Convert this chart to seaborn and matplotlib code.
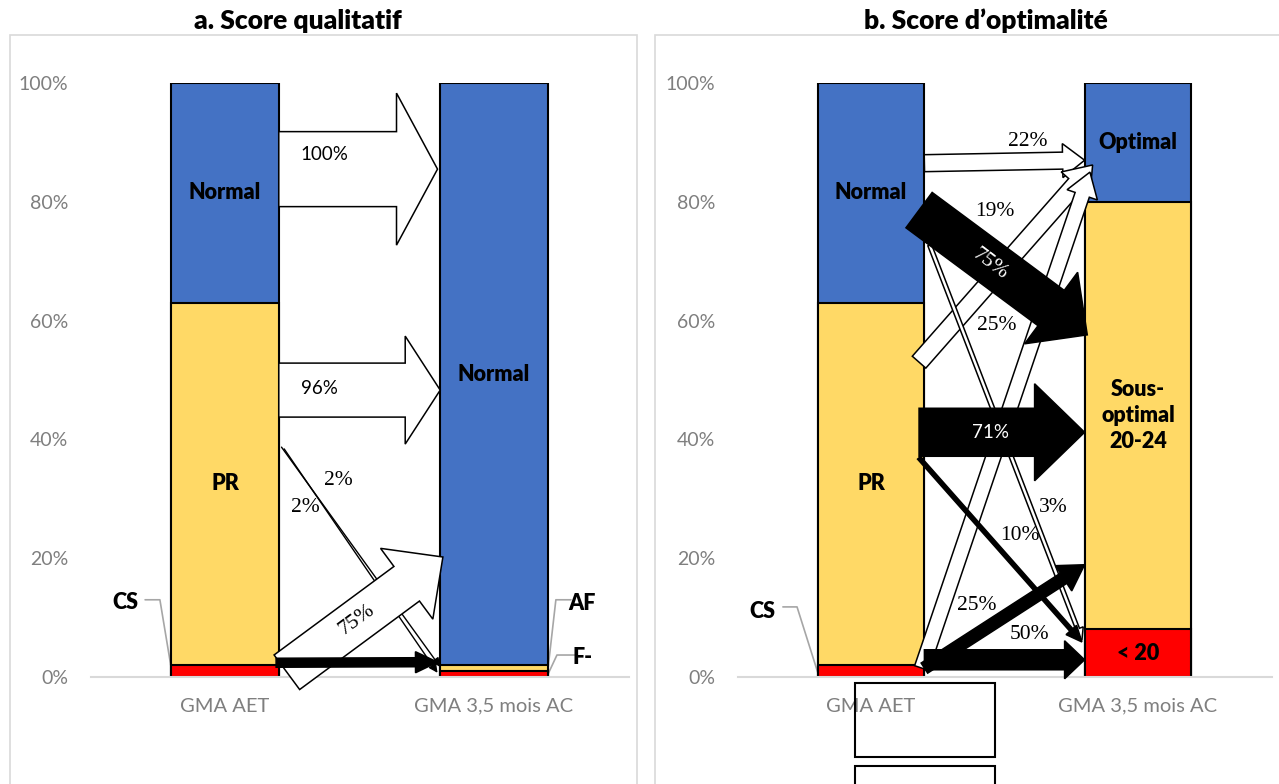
import numpy as np
import pandas as pd
import seaborn as sns
import matplotlib.pyplot as plt
from matplotlib.patches import FancyArrowPatch, ArrowStyle, Rectangle
from matplotlib.ticker import FuncFormatter

# categories (x axis)
categories = ["GMA AET", "GMA 3,5 mois AC"]

# a. score qualitatif (%), segments bottom -> top
qual_red = [2, 1]        # CS / F-
qual_yellow = [61, 1]    # PR / AF
qual_blue = [37, 98]     # Normal / Normal
qual_names = [["CS", "PR", "Normal"], ["F-", "AF", "Normal"]]

# b. score d'optimalite (%), segments bottom -> top
opt_red = [2, 8]         # CS / < 20
opt_yellow = [61, 72]    # PR / Sous-optimal 20-24
opt_blue = [37, 20]      # Normal / Optimal
opt_names = [["CS", "PR", "Normal"], ["< 20", "Sous-\noptimal\n20-24", "Optimal"]]

seg_colors = ["#FF0000", "#FFD966", "#4472C4"]

# transition arrows: start (x, %), end (x, %), body / head / head length (px), fill, label
qual_flows = [
    (0.20, 85.5, 0.79, 85.5, 75, 152, 41, "white", "100%"),
    (0.20, 48.3, 0.80, 48.3, 54, 108, 35, "white", "96%"),
    (0.23, 0.8, 0.81, 20.2, 43, 88, 45, "white", "75%"),
    (0.19, 2.4, 0.79, 2.5, 9, 21, 22, "black", ""),
]
opt_flows = [
    (0.20, 86.5, 0.80, 87.0, 17, 34, 22, "white", "22%"),
    (0.18, 53.0, 0.83, 86.2, 18, 38, 26, "white", "19%"),
    (0.19, 1.5, 0.82, 85.0, 15, 32, 24, "white", "25%"),
    (0.22, 72.7, 0.79, 6.2, 4, 12, 12, "white", "3%"),
    (0.18, 78.6, 0.81, 57.6, 44, 89, 45, "black", "75%"),
    (0.18, 41.2, 0.80, 41.2, 48, 97, 50, "black", "71%"),
    (0.18, 36.9, 0.79, 5.9, 4, 14, 16, "black", "10%"),
    (0.20, 1.5, 0.80, 18.9, 12, 30, 25, "black", "25%"),
    (0.20, 2.9, 0.80, 2.9, 20, 38, 20, "black", "50%"),
]

sns.set_style("white")
plt.rcParams['font.family'] = ['Lato', 'DejaVu Sans']
plt.rcParams['text.color'] = 'black'
SERIF = ['Liberation Serif', 'DejaVu Serif']
GREY = '#7f7f7f'
LIGHT = '#d9d9d9'
BOLD = 'heavy'

fig = plt.figure(figsize=(12.79, 7.84), dpi=100)


def stacked(ax, red, yellow, blue, names):
    segs = [red, yellow, blue]
    cum = np.cumsum(np.array(segs), axis=0)
    for i in [2, 1, 0]:
        df = pd.DataFrame({"cat": categories, "val": cum[i]})
        sns.barplot(data=df, x="cat", y="val", color=seg_colors[i], saturation=1,
                    width=0.4, edgecolor="black", linewidth=1.5, ax=ax, zorder=2)
    for j in range(2):
        for i in range(3):
            if segs[i][j] > 5:
                mid = cum[i][j] - segs[i][j] / 2
                ax.text(j, mid, names[j][i], ha="center", va="center",
                        fontsize=15.5, fontweight=BOLD, zorder=6, linespacing=1.3)
    ax.set_xlim(-0.5, 1.5)
    ax.set_ylim(0, 100)
    ax.set_yticks(range(0, 101, 20))
    ax.yaxis.set_major_formatter(FuncFormatter(lambda v, p: f"{v:.0f}%"))
    ax.set_xlabel("")
    ax.set_ylabel("")
    for s in ["left", "right", "top"]:
        ax.spines[s].set_visible(False)
    ax.spines["bottom"].set_color(LIGHT)
    ax.spines["bottom"].set_linewidth(1.5)
    ax.set_xticks([-0.5, 0.5, 1.5], minor=True)
    ax.tick_params(axis="x", which="minor", length=6, width=1.5, color=LIGHT, direction="out")
    ax.tick_params(axis="x", which="major", length=0, pad=15, labelsize=14.5, labelcolor=GREY)
    ax.tick_params(axis="y", length=0, pad=16, labelsize=14, labelcolor=GREY)
    ax.set_facecolor("none")


def arrow(ax, f, z):
    x0, y0, x1, y1, body, head, hl, face, _ = f
    style = ArrowStyle.Simple(head_length=hl * 0.72, head_width=head * 0.72, tail_width=body * 0.72)
    ax.add_patch(FancyArrowPatch((x0, y0), (x1, y1), arrowstyle=style, mutation_scale=1,
                                 shrinkA=0, shrinkB=0, facecolor=face, edgecolor="black",
                                 linewidth=1.1, joinstyle="miter", zorder=z, clip_on=False))


def callout(ax, tx, ty, xs, ys, label):
    ax.plot(xs, ys, color="#a6a6a6", lw=1.2, clip_on=False, zorder=1)
    ax.text(tx, ty, label, ha="center", va="center", fontsize=15.5, fontweight=BOLD, clip_on=False)


# panel frames and titles
for x0 in [10, 655]:
    fig.add_artist(Rectangle((x0 / 1279, -0.05), 627 / 1279, (784 - 35) / 784 + 0.05,
                             transform=fig.transFigure, fill=False, edgecolor=LIGHT, lw=1.2))
fig.text(298 / 1279, 1 - 21 / 784, "a. Score qualitatif", ha="center", va="center",
         fontsize=19, fontweight=BOLD)
fig.text(986 / 1279, 1 - 21 / 784, "b. Score d\u2019optimalit\u00e9", ha="center", va="center",
         fontsize=19, fontweight=BOLD)

# ---- a. Score qualitatif
ax1 = fig.add_axes([90.5 / 1279, 107 / 784, 538 / 1279, 594 / 784])
stacked(ax1, qual_red, qual_yellow, qual_blue, qual_names)
for (xa, ya, xb, yb) in [(0.21, 38.7, 0.80, 1.7), (0.22, 38.4, 0.79, 0.7)]:
    ax1.add_patch(FancyArrowPatch((xa, ya), (xb, yb), arrowstyle="-|>", mutation_scale=13,
                                  shrinkA=0, shrinkB=0, color="black", lw=1, zorder=3))
for k, f in enumerate(qual_flows):
    arrow(ax1, f, 4 if f[7] == "white" else 5)
ax1.text(0.37, 87.9, "100%", ha="center", va="center", fontsize=13.5, zorder=7)
ax1.text(0.35, 48.5, "96%", ha="center", va="center", fontsize=13.5, zorder=7)
ax1.text(0.42, 33.0, "2%", ha="center", va="center", fontsize=15.5, family=SERIF, zorder=7)
ax1.text(0.30, 28.5, "2%", ha="center", va="center", fontsize=15.5, family=SERIF, zorder=7)
ax1.text(0.49, 9.6, "75%", ha="center", va="center", fontsize=15.5, family=SERIF,
         rotation=36, zorder=7)
callout(ax1, -0.372, 12.5, [-0.297, -0.242, -0.197], [13, 13, 0.7], "CS")
callout(ax1, 1.327, 12.3, [1.286, 1.230, 1.201], [13, 13, 1.5], "AF")
callout(ax1, 1.331, 3.2, [1.300, 1.234, 1.201], [3.7, 3.7, 0.5], "F-")

# ---- b. Score d'optimalite
ax2 = fig.add_axes([737.5 / 1279, 107 / 784, 534 / 1279, 594 / 784])
stacked(ax2, opt_red, opt_yellow, opt_blue, opt_names)
for f in opt_flows:
    arrow(ax2, f, 4 if f[7] == "white" else 5)
opt_label_pos = [(0.588, 90.1, 0), (0.464, 78.3, 0), (0.472, 59.1, 0), (0.682, 28.5, 0),
                 (0.446, 69.4, -37), (0.446, 41.1, 0), (0.558, 23.9, 0), (0.397, 12.0, 0),
                 (0.595, 7.1, 0)]
for f, (tx, ty, rot) in zip(opt_flows, opt_label_pos):
    lab = f[8]
    if lab == "71%":
        ax2.text(tx, ty, lab, ha="center", va="center", fontsize=13.5, color="white", zorder=7)
    else:
        col = "white" if (f[7] == "black" and lab == "75%") else "black"
        ax2.text(tx, ty, lab, ha="center", va="center", fontsize=15.5, family=SERIF,
                 color=col, rotation=rot, zorder=7)
callout(ax2, -0.408, 11.1, [-0.33, -0.277, -0.199], [11.8, 11.8, 0.7], "CS")

# empty text boxes below the right panel
for ytop, ybot in [(-1.0, -13.5), (-15.0, -25.0)]:
    ax2.add_patch(Rectangle((-0.06, ybot), 0.524, ytop - ybot, fill=False, edgecolor="black",
                            lw=1.5, clip_on=False, zorder=8))

plt.savefig("out.png", dpi=100)
